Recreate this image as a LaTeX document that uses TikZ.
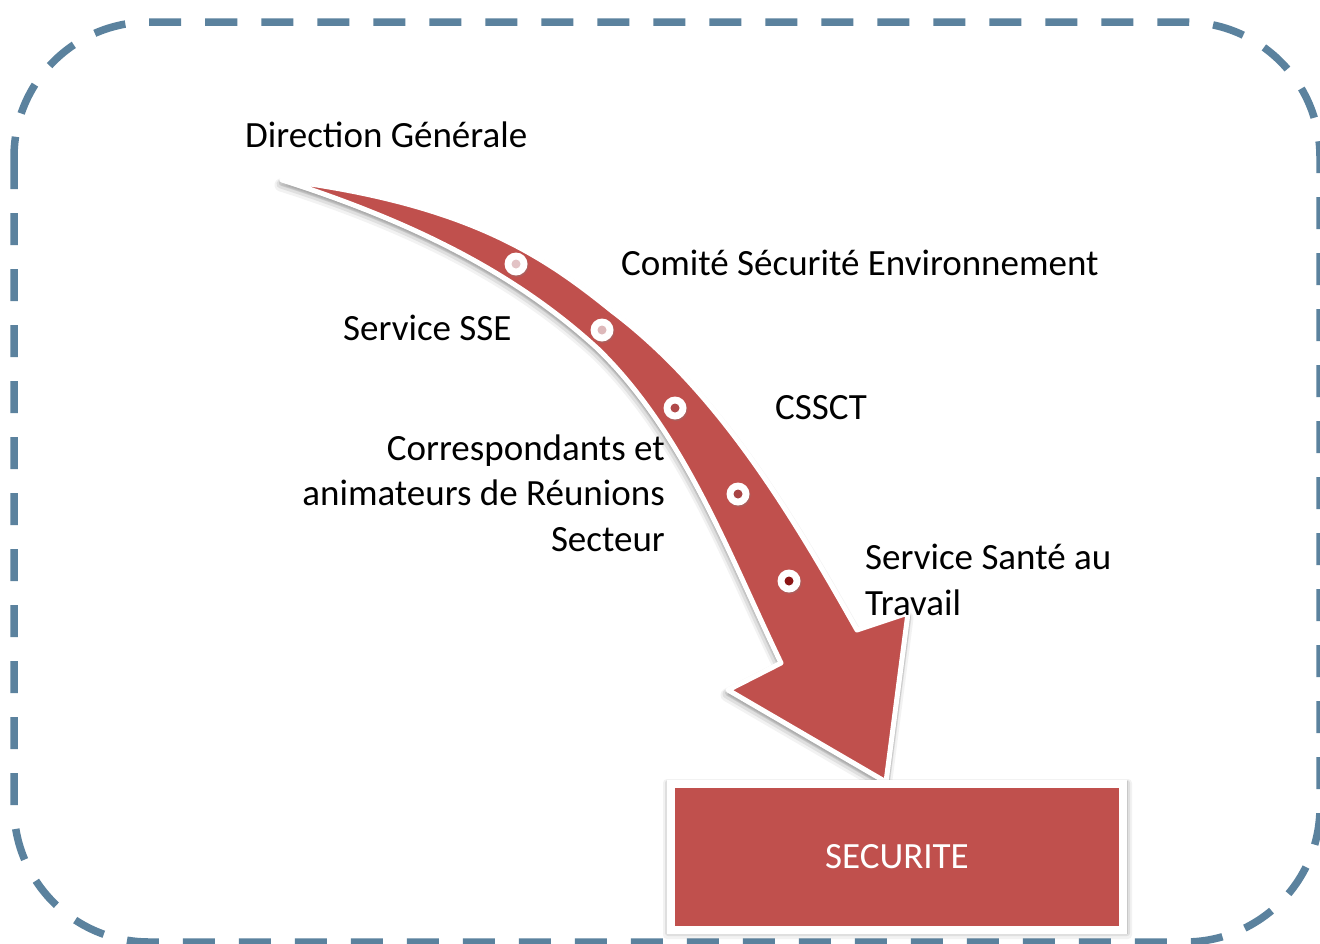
\documentclass[tikz,border=0pt]{standalone}
\usepackage{fontspec}
\setmainfont{Carlito}
\usetikzlibrary{shadows}
\definecolor{secred}{HTML}{C0504D}
\definecolor{framec}{RGB}{91,130,158}
\definecolor{dotA}{HTML}{E2C3C5}
\definecolor{dotB}{HTML}{DDB8BA}
\definecolor{dotC}{HTML}{B04A4A}
\definecolor{dotD}{HTML}{A84444}
\definecolor{dotE}{HTML}{8B1515}
\def\arrowcoords{(282,180) .. controls (470,204) and (545,257) .. (612,311) .. controls (718,391) and (791,513) .. (857,630) -- (908,613) -- (886,782) -- (728,690) -- (781,663) .. controls (729,555) and (685,434) .. (598,349) .. controls (526,283) and (432,228) .. (282,180) -- cycle}
\begin{document}
\begin{tikzpicture}[x=1pt,y=-1pt,
  frame/.style={draw=framec, line width=7.5pt, dash pattern=on 32pt off 24pt, rounded corners=135pt},
  lbl/.style={font=\fontsize{37}{45.5}\selectfont, inner sep=0pt, text=black},
  secbox/.style={rectangle, fill=secred, draw=white, line width=8pt, minimum width=452pt, minimum height=146pt, inner sep=0pt, text=white, font=\fontsize{37}{45}\selectfont},
  dotouter/.style={circle, fill=white, minimum size=23pt, inner sep=0pt, drop shadow={opacity=0.3, shadow xshift=1pt, shadow yshift=-1.5pt}},
  dotinner/.style={circle, minimum size=9pt, inner sep=0pt},
]
\useasboundingbox (0,0) rectangle (1320,943);
\fill[white] (0,0) rectangle (1320,943);
% dashed frame
\draw[frame] (14,22) rectangle (1320,942);
% arrow shadow
\begin{scope}[shift={(-1,5)}]
  \filldraw[black, opacity=0.05, line width=13pt, line join=round] \arrowcoords;
\end{scope}
\begin{scope}[shift={(-1,4)}]
  \filldraw[black, opacity=0.08, line width=9pt, line join=round] \arrowcoords;
\end{scope}
\begin{scope}[shift={(0,3)}]
  \filldraw[black, opacity=0.1, line width=6pt, line join=round] \arrowcoords;
\end{scope}
% arrow
\filldraw[fill=secred, draw=white, line width=5pt, line join=round] \arrowcoords;
% dots
\node[dotouter] (d1) at (516,264) {};
\node[dotouter] (d2) at (602,330) {};
\node[dotouter] (d3) at (675,408) {};
\node[dotouter] (d4) at (738,494) {};
\node[dotouter] (d5) at (789,581) {};
\node[dotinner, fill=dotA] (i1) at (d1) {};
\node[dotinner, fill=dotB] (i2) at (d2) {};
\node[dotinner, fill=dotC] (i3) at (d3) {};
\node[dotinner, fill=dotD] (i4) at (d4) {};
\node[dotinner, fill=dotE] (i5) at (d5) {};
% box shadow
\fill[black, opacity=0.05, rounded corners=4pt] (663,779) rectangle (1132,939);
\fill[black, opacity=0.08, rounded corners=3pt] (665,780) rectangle (1130,936);
\fill[black, opacity=0.1] (667,781) rectangle (1128,934);
% box
\node[secbox] (sec) at (897,857) {SECURITE};
% labels
\node[lbl, anchor=base west] (dg) at (245,147) {Direction Générale};
\node[lbl, anchor=base west] (cse) at (621,275) {Comité Sécurité Environnement};
\node[lbl, anchor=base west] (sse) at (343,340) {Service SSE};
\node[lbl, anchor=base west] (cssct) at (775,419) {CSSCT};
\node[lbl, anchor=base east, align=right] (corr) at (665,551) {Correspondants et\\animateurs de Réunions\\Secteur};
\node[lbl, anchor=base west, align=left] (sst) at (865,615) {Service Santé au\\Travail};
\end{tikzpicture}
\end{document}
